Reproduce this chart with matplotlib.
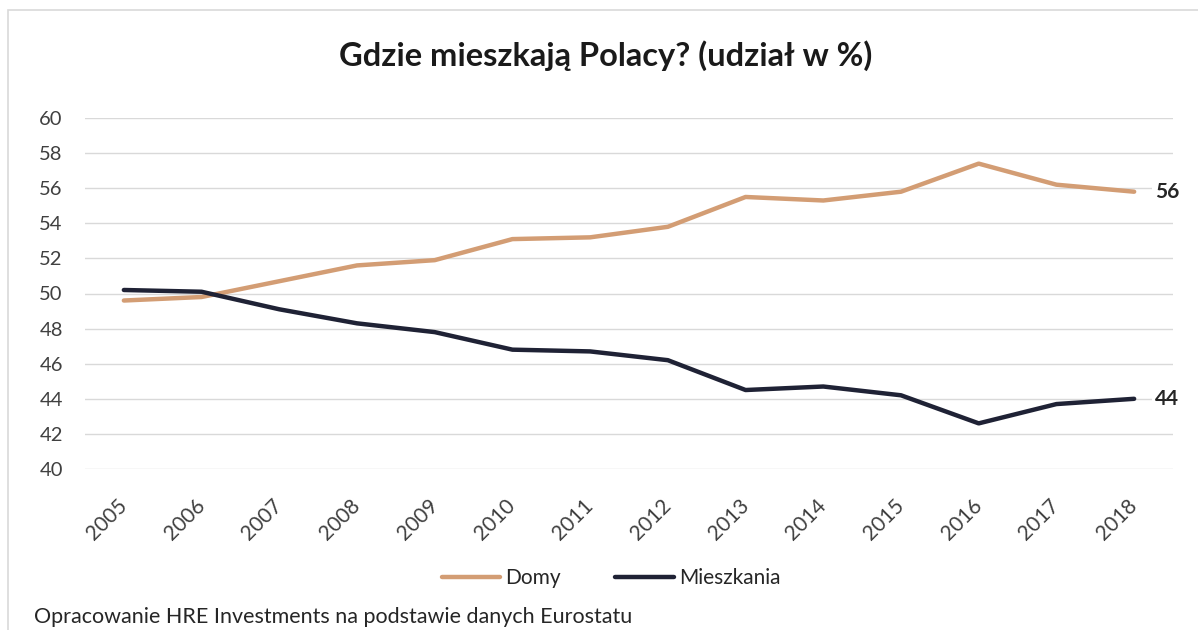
import matplotlib.pyplot as plt
from matplotlib.patches import Rectangle

years = [str(y) for y in range(2005, 2019)]
domy = [49.6, 49.8, 50.7, 51.6, 51.9, 53.1, 53.2, 53.8, 55.5, 55.3, 55.8, 57.4, 56.2, 55.8]
mieszkania = [50.2, 50.1, 49.1, 48.3, 47.8, 46.8, 46.7, 46.2, 44.5, 44.7, 44.2, 42.6, 43.7, 44.0]
end_labels = ["56", "44"]

c_domy = "#d39d74"
c_mieszk = "#1f2235"

plt.rcParams["font.family"] = ["Lato", "DejaVu Sans"]

fig = plt.figure(figsize=(11.98, 6.3), dpi=100)
fig.patches.append(Rectangle((8 / 1198, -0.01), 1.0, 1 - 10 / 630 + 0.01,
                             transform=fig.transFigure, fill=False,
                             edgecolor="#d9d9d9", linewidth=1.2))

ax = fig.add_axes([85 / 1198, 1 - 469 / 630, (1173 - 85) / 1198, (469 - 118) / 630])
x = range(len(years))
ax.plot(x, domy, color=c_domy, linewidth=3.2, label="Domy", solid_capstyle="round")
ax.plot(x, mieszkania, color=c_mieszk, linewidth=3.2, label="Mieszkania", solid_capstyle="round")

ax.set_ylim(40, 60)
ax.set_yticks(range(40, 61, 2))
ax.set_xlim(-0.5, len(years) - 0.5)
ax.set_xticks(list(x))
ax.set_xticklabels(years, rotation=45, ha="right", va="center", rotation_mode="anchor")
ax.tick_params(axis="y", length=0, pad=16, labelsize=14.5, labelcolor="#404040")
ax.tick_params(axis="x", length=0, pad=24, labelsize=15, labelcolor="#404040")
ax.grid(axis="y", color="#d9d9d9", linewidth=1)
ax.set_axisbelow(True)
for s in ax.spines.values():
    s.set_visible(False)

for vals, lab in zip([domy, mieszkania], end_labels):
    ax.annotate(lab, (len(years) - 1, vals[-1]), xytext=(15, 0), textcoords="offset points",
                va="center", ha="left", fontsize=15, fontweight="bold", color="#262626",
                bbox=dict(boxstyle="square,pad=0.15", fc="white", ec="none"))

fig.text(606 / 1198, 1 - 66 / 630, "Gdzie mieszkają Polacy? (udział w %)", ha="center", va="baseline",
         fontsize=23.5, fontweight="bold", color="#1a1a1a")

fig.legend(loc="center left", bbox_to_anchor=(442 / 1198, 1 - 578 / 630), ncol=2, frameon=False,
           fontsize=15, handlelength=2.8, handletextpad=0.25, columnspacing=2.6,
           borderpad=0, borderaxespad=0, labelcolor="#262626")

fig.text(34 / 1198, 1 - 607 / 630, "Opracowanie HRE Investments na podstawie danych Eurostatu",
         ha="left", va="top", fontsize=15.5, color="#262626")

fig.savefig("out.png", dpi=100)
